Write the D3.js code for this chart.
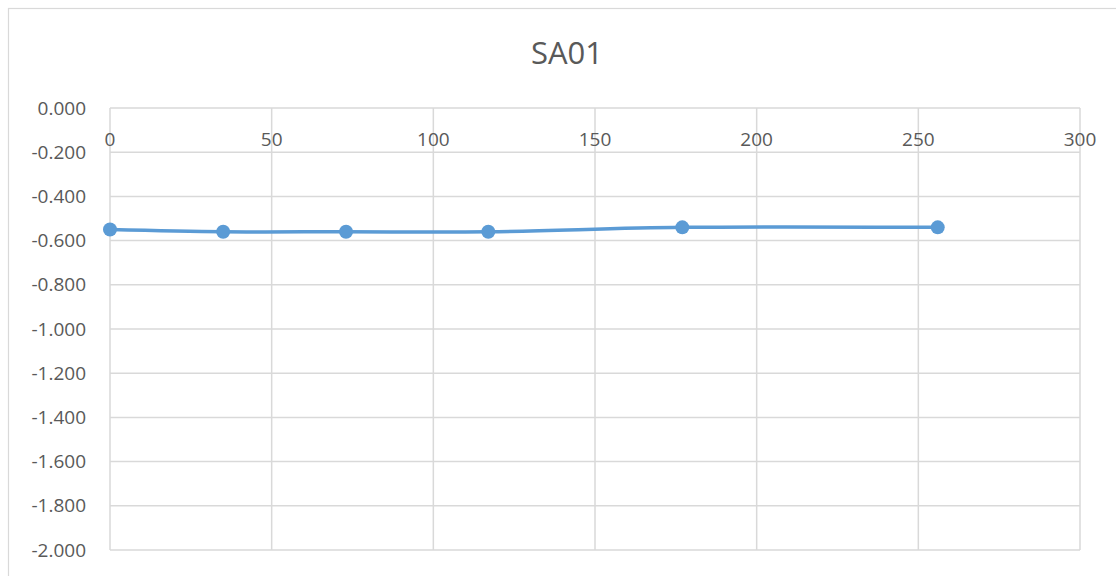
<!DOCTYPE html>
<html>
<head>
<meta charset="utf-8">
<script src="https://cdn.jsdelivr.net/npm/d3@7"></script>
<style>
  body { margin: 0; background: #fff; }
  text { font-family: "Open Sans", sans-serif; fill: #595959; }
</style>
</head>
<body>
<svg id="chart" width="1116" height="576"></svg>
<script>
// Chart data
const title = "SA01";
const xValues = [0, 35, 73, 117, 177, 256];
const yValues = [-0.55, -0.56, -0.56, -0.56, -0.54, -0.54];
const xTicks = [0, 50, 100, 150, 200, 250, 300];
const yTicks = [0, -0.2, -0.4, -0.6, -0.8, -1.0, -1.2, -1.4, -1.6, -1.8, -2.0];

const svg = d3.select('#chart');

// outer chart border
svg.append('rect')
    .attr('x', 8.5).attr('y', 8.5)
    .attr('width', 1120).attr('height', 600)
    .attr('fill', 'none').attr('stroke', '#d9d9d9').attr('stroke-width', 1.2);

const plot = { left: 110, right: 1080, top: 108, bottom: 550 };

const x = d3.scaleLinear().domain([0, 300]).range([plot.left, plot.right]);
const y = d3.scaleLinear().domain([0, -2]).range([plot.top, plot.bottom]);

// horizontal gridlines
svg.append('g')
    .selectAll('line')
    .data(yTicks)
    .join('line')
    .attr('x1', plot.left).attr('x2', plot.right)
    .attr('y1', (d) => y(d)).attr('y2', (d) => y(d))
    .attr('stroke', '#d9d9d9').attr('stroke-width', 1.5);

// vertical gridlines
svg.append('g')
    .selectAll('line')
    .data(xTicks)
    .join('line')
    .attr('x1', (d) => x(d)).attr('x2', (d) => x(d))
    .attr('y1', plot.top).attr('y2', plot.bottom)
    .attr('stroke', '#d9d9d9').attr('stroke-width', 1.5);

// y labels
svg.append('g')
    .selectAll('text')
    .data(yTicks)
    .join('text')
    .attr('x', 86)
    .attr('y', (d) => y(d))
    .attr('dy', '0.35em')
    .attr('text-anchor', 'end')
    .style('font-size', '19px')
    .text((d) => d3.format('.3f')(d).replace('−', '-'));

// x labels sit just under the zero line
svg.append('g')
    .selectAll('text')
    .data(xTicks)
    .join('text')
    .attr('x', (d) => x(d))
    .attr('y', y(0) + 31)
    .attr('dy', '0.35em')
    .attr('text-anchor', 'middle')
    .style('font-size', '19px')
    .text((d) => d);

// title
svg.append('text')
    .attr('x', 567)
    .attr('y', 53)
    .attr('dy', '0.35em')
    .attr('text-anchor', 'middle')
    .style('font-size', '31px')
    .text(title);

const points = xValues.map((v, i) => [v, yValues[i]]);

const line = d3.line()
    .x((d) => x(d[0]))
    .y((d) => y(d[1]))
    .curve(d3.curveCatmullRom.alpha(0.5));

svg.append('path')
    .datum(points)
    .attr('d', line)
    .attr('fill', 'none')
    .attr('stroke', '#5b9bd5')
    .attr('stroke-width', 3.5)
    .attr('stroke-linecap', 'round');

svg.append('g')
    .selectAll('circle')
    .data(points)
    .join('circle')
    .attr('cx', (d) => x(d[0]))
    .attr('cy', (d) => y(d[1]))
    .attr('r', 7)
    .attr('fill', '#5b9bd5');
</script>
</body>
</html>
